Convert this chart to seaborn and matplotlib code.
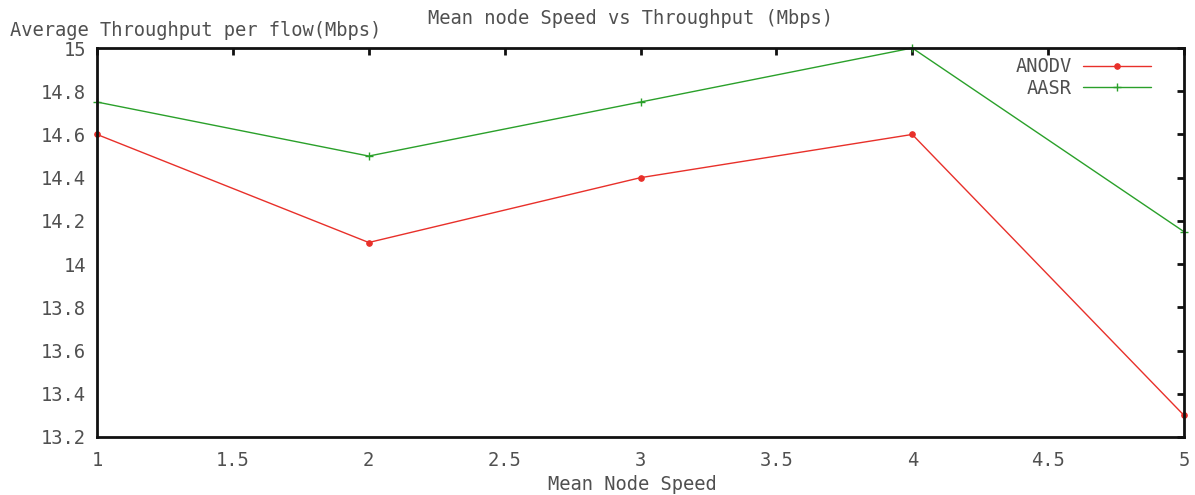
import matplotlib
matplotlib.use("Agg")
import matplotlib.pyplot as plt
import seaborn as sns
import pandas as pd

speed = [1, 2, 3, 4, 5]
anodv = [14.6, 14.1, 14.4, 14.6, 13.3]
aasr = [14.75, 14.5, 14.75, 15.0, 14.15]
xticks = [1, 1.5, 2, 2.5, 3, 3.5, 4, 4.5, 5]
yticks = [13.2, 13.4, 13.6, 13.8, 14.0, 14.2, 14.4, 14.6, 14.8, 15.0]

sns.set_style("white")
plt.rcParams['font.family'] = ['DejaVu Sans Mono']
txt = '#505050'
fs = 13.5

fig = plt.figure(figsize=(11.95, 4.95), dpi=100)
ax = fig.add_axes([97/1195, 1 - 437/495, (1184-97)/1195, (437-48)/495])

red = '#e8302a'
green = '#2aa02a'
sns.lineplot(x=speed, y=anodv, color=red, marker='o', markersize=4,
             markeredgecolor=red, linewidth=1.0, label='ANODV', ax=ax,
             clip_on=False)
sns.lineplot(x=speed, y=aasr, color=green, marker='+', markersize=6,
             markeredgecolor=green, markeredgewidth=1, linewidth=1.0,
             label='AASR', ax=ax, clip_on=False)

ax.set_xlim(1, 5)
ax.set_ylim(13.2, 15)
ax.set_xticks(xticks)
ax.set_xticklabels([f'{t:g}' for t in xticks])
ax.set_yticks(yticks)
ax.set_yticklabels([f'{t:g}' for t in yticks])
ax.tick_params(direction='in', length=5, width=2, top=True, right=True,
               labelsize=fs, labelcolor=txt, color='#111111')
ax.tick_params(axis='x', pad=10)
ax.tick_params(axis='y', pad=8)
for s in ax.spines.values():
    s.set_linewidth(2)
    s.set_color('#111111')
ax.set_xlabel('')
ax.set_ylabel('')
fig.text(632/1195, 1 - 485/495, 'Mean Node Speed', ha='center', va='center',
         fontsize=fs, color=txt)
fig.text(10/1195, 1 - 30/495, 'Average Throughput per flow(Mbps)', ha='left',
         va='center', fontsize=fs, color=txt)
fig.text(630/1195, 1 - 18/495, 'Mean node Speed vs Throughput (Mbps)',
         ha='center', va='center', fontsize=fs, color=txt)

leg = ax.legend(loc='upper right', frameon=False, markerfirst=False,
                fontsize=fs, handlelength=3.6, labelspacing=0.15,
                handletextpad=0.6, bbox_to_anchor=(0.985, 1.02))
for t in leg.get_texts():
    t.set_color(txt)

fig.savefig('out.png', dpi=100)
